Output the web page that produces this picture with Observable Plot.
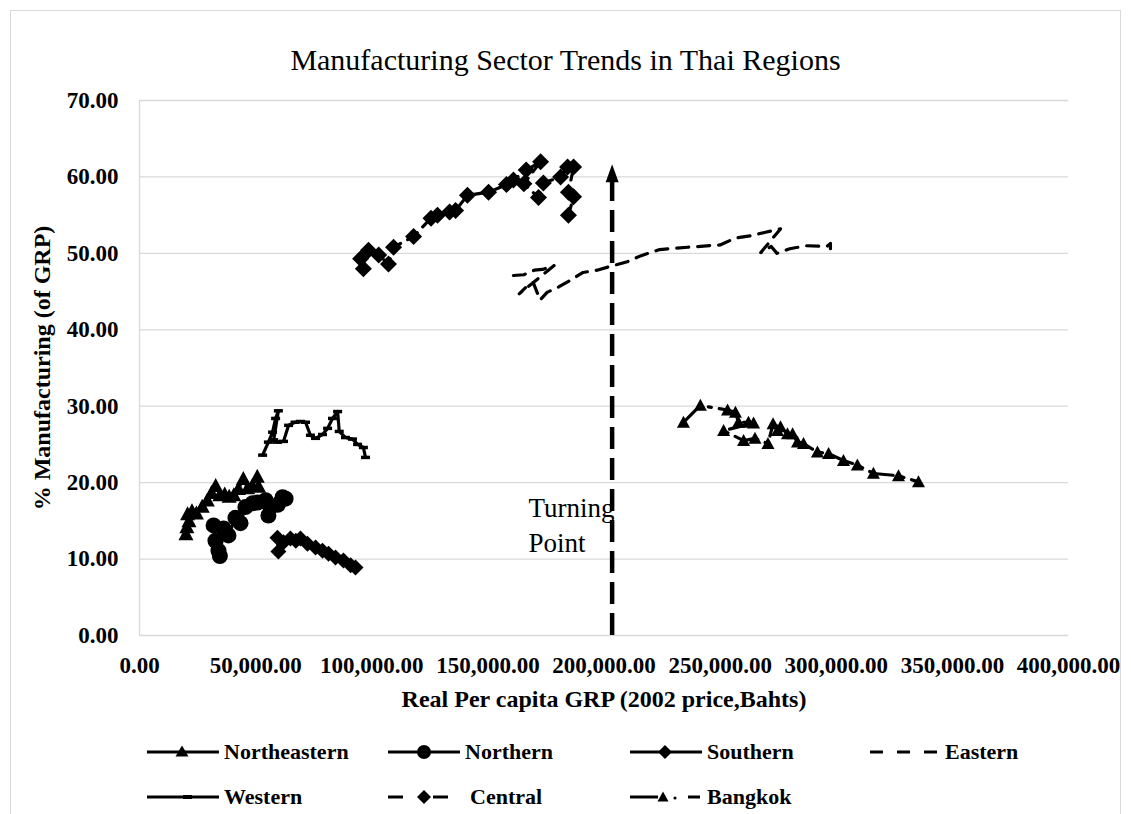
<!DOCTYPE html>
<html>
<head>
<meta charset="utf-8">
<script src="https://cdn.jsdelivr.net/npm/d3@7"></script>
<script src="https://cdn.jsdelivr.net/npm/@observablehq/plot@0.6"></script>
<style>
  html, body { margin: 0; padding: 0; background: #fff; width: 1131px; height: 814px; overflow: hidden; }
  body { font-family: "Liberation Serif", "Times New Roman", serif; color: #000; position: relative; }
  #frame { position: absolute; left: 10px; top: 10px; width: 1111px; height: 840px; border: 1.5px solid #d9d9d9; box-sizing: border-box; }
  #title { position: absolute; top: 40px; left: 0; width: 1131px; text-align: center; font-size: 30px; line-height: 40px; font-weight: normal; }
  #chart { position: absolute; left: 0; top: 0; }
  .leg { position: absolute; display: flex; align-items: center; font-weight: bold; font-size: 22px; height: 26px; }
  .leg svg { display: block; margin-right: 5px; }
</style>
</head>
<body>
<div id="frame"></div>
<div id="chart"></div>
<div id="title">Manufacturing Sector Trends in Thai Regions</div>
<div id="legend"></div>
<script>
// ---------------- DATA (x: real per capita GRP, Baht; y: % manufacturing of GRP) ----------------
const northeastern = [[20000,13.3],[20400,14.2],[21300,15.0],[20700,15.9],[22600,16.3],[24500,16.0],[27000,16.9],[29200,17.7],[31000,18.7],[32800,19.6],[34600,18.4],[36700,18.5],[38600,18.2],[40600,18.4],[42600,19.2],[44700,20.5],[46600,19.3],[48600,19.6],[50700,20.8],[51300,19.5]];
const northern = [[31900,14.4],[32700,12.4],[34000,11.1],[34600,10.4],[36200,14.0],[38300,13.1],[41300,15.4],[43500,14.7],[45600,16.8],[48700,17.3],[50800,17.4],[54300,17.7],[55500,15.7],[56400,16.8],[59500,17.1],[61600,18.1],[62900,17.9]];
const southern = [[59400,12.8],[59800,11.0],[62000,12.2],[65000,12.7],[67300,12.4],[69300,12.7],[72300,12.0],[75800,11.5],[78800,11.1],[81400,10.7],[84400,10.2],[87800,9.8],[90900,9.2],[93000,8.9]];
const eastern = [[161000,47.1],[165500,47.2],[170000,47.8],[173500,47.9],[178500,48.4],[163500,44.7],[166500,45.6],[169500,46.2],[172500,43.9],[175500,44.9],[180500,45.6],[184500,46.3],[191000,47.5],[197000,47.8],[204000,48.4],[210000,48.9],[216000,49.7],[224000,50.5],[236000,50.8],[250000,51.1],[256500,52.0],[263000,52.3],[270000,52.8],[276000,53.2],[267500,50.1],[272000,50.9],[274500,50.0],[280000,50.6],[287000,51.0],[296000,50.9],[297500,51.3],[297500,50.6]];
const western = [[53000,23.6],[55500,25.3],[57300,26.6],[58600,28.4],[59800,29.4],[57800,25.6],[59400,25.3],[62000,25.4],[64200,27.5],[67000,27.9],[69300,28.0],[71500,27.9],[73600,26.2],[75800,25.8],[78800,26.3],[81000,27.1],[83100,28.4],[85300,29.3],[86000,26.7],[88700,25.9],[91700,25.7],[93900,25.0],[96400,24.6],[97300,23.3]];
const central = [[96400,48.0],[95200,49.3],[98600,50.4],[103000,49.8],[107200,48.6],[109400,50.8],[118000,52.2],[125500,54.6],[128300,55.0],[133500,55.4],[136100,55.6],[141200,57.6],[150300,58.0],[158000,59.0],[161000,59.6],[166500,60.9],[172700,62.0],[165500,59.1],[171800,57.3],[173900,59.2],[181300,60.0],[184300,61.3],[186900,61.3],[184700,58.0],[186900,57.4],[184700,55.0]];
const bangkok = [[234200,27.9],[241500,30.1],[253200,29.5],[256600,29.2],[257900,27.9],[262200,27.9],[264400,27.8],[251500,26.8],[260100,25.5],[265000,25.8],[270600,25.1],[272800,27.7],[274700,26.8],[276000,27.3],[279000,26.4],[281200,26.4],[283300,25.3],[285900,25.1],[291900,24.0],[296700,23.8],[303100,22.9],[309100,22.3],[316000,21.2],[326800,20.9],[335400,20.1]];

const seriesNames = ["Northeastern","Northern","Southern","Eastern","Western","Central","Bangkok"];
const seriesData = [northeastern, northern, southern, eastern, western, central, bangkok];

const xTicks = [0,50000,100000,150000,200000,250000,300000,350000,400000];
const yTicks = [0,10,20,30,40,50,60,70];

// turning point annotation
const turningX = [203500];
const turningArrowTop = [59.3];
const turningLabel = [{x: 167500, y: 14.7, text: "Turning\nPoint"}];

const titleText = "Manufacturing Sector Trends in Thai Regions";
const xLabel = "Real Per capita GRP (2002 price,Bahts)";
const yLabel = "% Manufacturing (of GRP)";

// ---------------- SYMBOLS ----------------
const tri = (w, h) => ({draw(ctx){ ctx.moveTo(0,-h*0.55); ctx.lineTo(w/2,h*0.45); ctx.lineTo(-w/2,h*0.45); ctx.closePath(); }});
const diamond = (hh) => ({draw(ctx){ ctx.moveTo(0,-hh); ctx.lineTo(hh,0); ctx.lineTo(0,hh); ctx.lineTo(-hh,0); ctx.closePath(); }});
const circle = (r) => ({draw(ctx){ ctx.moveTo(r,0); ctx.arc(0,0,r,0,2*Math.PI); }});
const dashSym = (w, h) => ({draw(ctx){ ctx.rect(-w/2,-h/2,w,h); }});
const arrowHead = {draw(ctx){ ctx.moveTo(0,-18); ctx.lineTo(6.5,0); ctx.lineTo(-6.5,0); ctx.closePath(); }};

const styles = {
  Northeastern: {dash: null, sym: tri(15, 14)},
  Northern: {dash: null, sym: circle(8)},
  Southern: {dash: null, sym: diamond(8)},
  Eastern: {dash: "12,9", sym: null},
  Western: {dash: null, sym: dashSym(9, 3.5)},
  Central: {dash: "12,8", sym: diamond(8.5)},
  Bangkok: {dash: "24,8,3,8", sym: tri(13, 12)}
};

const rows = seriesNames.map((name, i) => seriesData[i].map(([x, y]) => ({name, x, y})));

const seriesMarks = [];
rows.forEach((r, i) => {
  const st = styles[seriesNames[i]];
  seriesMarks.push(Plot.line(r, {x: "x", y: "y", stroke: "black", strokeWidth: 3.2, strokeDasharray: st.dash, strokeLinejoin: "round"}));
  if (st.sym) seriesMarks.push(Plot.dot(r, {x: "x", y: "y", symbol: st.sym, r: 5, fill: "black", stroke: "none"}));
});

const plot = Plot.plot({
  width: 1131,
  height: 720,
  marginLeft: 139,
  marginRight: 63,
  marginTop: 100,
  marginBottom: 85,
  style: {fontFamily: "'Liberation Serif', 'Times New Roman', serif", fontSize: "23px", fontWeight: "bold", color: "#000", background: "transparent", overflow: "visible"},
  x: {domain: [0, 400000], ticks: xTicks, tickFormat: d3.format(",.2f"), tickSize: 0, tickPadding: 21, label: null},
  y: {domain: [0, 70], ticks: yTicks, tickFormat: d3.format(".2f"), tickSize: 0, tickPadding: 21, label: null},
  marks: [
    Plot.ruleY(yTicks, {stroke: "#d9d9d9", strokeWidth: 1.3}),
    Plot.ruleX([0], {stroke: "#d9d9d9", strokeWidth: 1.3}),
    ...seriesMarks,
    Plot.ruleX(turningX, {y1: 0, y2: turningArrowTop[0], stroke: "black", strokeWidth: 4.5, strokeDasharray: "22,9"}),
    Plot.dot(turningX, {x: d => d, y: turningArrowTop, symbol: arrowHead, r: 5, fill: "black"}),
    Plot.text(turningLabel, {x: "x", y: "y", text: "text", textAnchor: "start", fontSize: 27, fontWeight: "normal", lineHeight: 1.3}),
    Plot.text([xLabel], {frameAnchor: "bottom", dy: 71, text: d => d, textAnchor: "middle", fontSize: 24, fontWeight: "bold"}),
    Plot.text([yLabel], {frameAnchor: "left", dx: -97, rotate: -90, text: d => d, textAnchor: "middle", fontSize: 24, fontWeight: "bold"})
  ]
});
document.getElementById("chart").append(plot);
document.getElementById("title").textContent = titleText;

// ---------------- LEGEND ----------------
const legendPos = {
  Northeastern: [147, 752], Northern: [388, 752], Southern: [630, 752], Eastern: [868, 752],
  Western: [147, 797], Central: [388, 797], Bangkok: [630, 797]
};
const swatch = {
  Northeastern: '<line x1="0" x2="72" y1="13" y2="13" stroke="black" stroke-width="3"/><path d="M35,6.4 L41.5,17.4 L28.5,17.4Z"/>',
  Northern: '<line x1="0" x2="72" y1="13" y2="13" stroke="black" stroke-width="3"/><circle cx="36" cy="13" r="7"/>',
  Southern: '<line x1="0" x2="72" y1="13" y2="13" stroke="black" stroke-width="3"/><path d="M35,6 L42,13 L35,20 L28,13Z"/>',
  Eastern: '<line x1="2" x2="72" y1="13" y2="13" stroke="black" stroke-width="3" stroke-dasharray="13,14"/>',
  Western: '<line x1="0" x2="72" y1="13" y2="13" stroke="black" stroke-width="3"/><rect x="36" y="11" width="9" height="4"/>',
  Central: '<line x1="0" x2="15" y1="13" y2="13" stroke="black" stroke-width="3"/><path d="M36,6 L43,13 L36,20 L29,13Z"/><line x1="45" x2="60" y1="13" y2="13" stroke="black" stroke-width="3"/>',
  Bangkok: '<line x1="0" x2="28" y1="13" y2="13" stroke="black" stroke-width="3"/><path d="M33,7.5 L38.5,17.5 L27.5,17.5Z"/><circle cx="45" cy="14" r="1.6"/><line x1="58" x2="70" y1="13" y2="13" stroke="black" stroke-width="3"/>'
};
const legend = document.getElementById("legend");
seriesNames.forEach(name => {
  const [lx, ly] = legendPos[name];
  const div = document.createElement("div");
  div.className = "leg";
  div.style.left = lx + "px";
  div.style.top = (ly - 13) + "px";
  div.innerHTML = `<svg width="${name === "Central" ? 77 : 72}" height="26">${swatch[name]}</svg><span>${name}</span>`;
  legend.append(div);
});
</script>
</body>
</html>
